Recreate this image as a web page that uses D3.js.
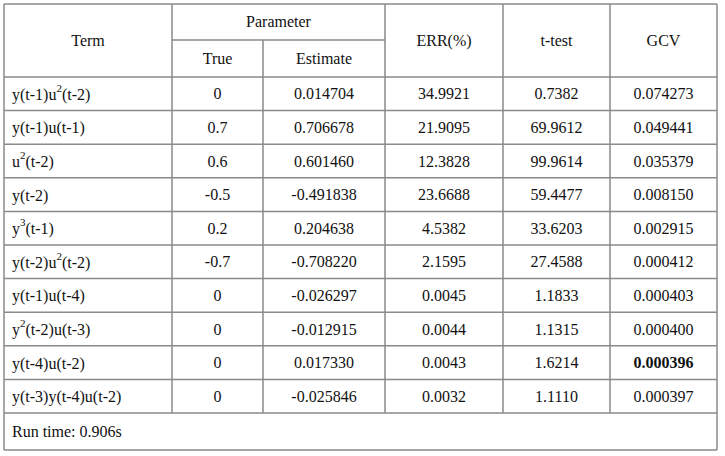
<!DOCTYPE html><html><head><script src="https://cdn.jsdelivr.net/npm/d3@7"></script>
<style>body{margin:0;background:#fff}</style></head><body><svg id="c" width="725" height="456"></svg>
<script>
const terms=[["y(t-1)u","2","(t-2)"],["y(t-1)u(t-1)"],["u","2","(t-2)"],["y(t-2)"],["y","3","(t-1)"],["y(t-2)u","2","(t-2)"],["y(t-1)u(t-4)"],["y","2","(t-2)u(t-3)"],["y(t-4)u(t-2)"],["y(t-3)y(t-4)u(t-2)"]];
const trueVals=["0","0.7","0.6","-0.5","0.2","-0.7","0","0","0","0"];
const estimates=["0.014704","0.706678","0.601460","-0.491838","0.204638","-0.708220","-0.026297","-0.012915","0.017330","-0.025846"];
const errs=["34.9921","21.9095","12.3828","23.6688","4.5382","2.1595","0.0045","0.0044","0.0043","0.0032"];
const ttests=["0.7382","69.9612","99.9614","59.4477","33.6203","27.4588","1.1833","1.1315","1.6214","1.1110"];
const gcvs=["0.074273","0.049441","0.035379","0.008150","0.002915","0.000412","0.000403","0.000400","0.000396","0.000397"];
const boldRow=8;
const runTime="Run time: 0.906s";
(function(){
const svg=d3.select("#c");
const cols=[4,172,263,385,503,610,717];
const yTop=4,mid=40,hb=77,rh=33.6,n=terms.length;
const y=d3.scaleLinear().domain([0,n]).range([hb,hb+n*rh]);
const bottom=y(n)+37;
const st="#8a8a8a",font="Liberation Serif, Times New Roman, serif";
const line=(x1,y1,x2,y2)=>svg.append("line").attr("x1",x1).attr("y1",y1).attr("x2",x2).attr("y2",y2).attr("stroke",st).attr("stroke-width",1.5);
line(cols[0],yTop,cols[6],yTop);
line(cols[1],mid,cols[3],mid);
for(let i=0;i<=n;i++)line(cols[0],y(i),cols[6],y(i));
line(cols[0],bottom,cols[6],bottom);
cols.forEach((c,i)=>{const y2=(i==0||i==6)?bottom:y(n);const y1=(i==2)?mid:yTop;line(c,y1,c,y2);});
const txt=(x,yy,s,anchor="middle",w="normal")=>svg.append("text").attr("x",x).attr("y",yy).attr("text-anchor",anchor).attr("dominant-baseline","central").attr("font-family",font).attr("font-size",16).attr("font-weight",w).attr("fill","#111").text(s);
const cx=i=>(cols[i]+cols[i+1])/2;
txt(cx(0),(yTop+hb)/2,"Term");
txt((cols[1]+cols[3])/2,(yTop+mid)/2-1,"Parameter");
txt(cx(1),(mid+hb)/2,"True");txt(cx(2),(mid+hb)/2,"Estimate");
txt(cx(3),(yTop+hb)/2,"ERR(%)");txt(cx(4),(yTop+hb)/2,"t-test");txt(cx(5),(yTop+hb)/2,"GCV");
terms.forEach((t,i)=>{
 const yy=(y(i)+y(i+1))/2;
 const tx=svg.append("text").attr("x",cols[0]+8).attr("y",yy).attr("dominant-baseline","central").attr("font-family",font).attr("font-size",16).attr("fill","#111");
 tx.append("tspan").text(t[0]);
 if(t.length>1){tx.append("tspan").attr("font-size",11).attr("dy",-6).text(t[1]);tx.append("tspan").attr("dy",6).text(t[2]);}
 txt(cx(1),yy,trueVals[i]);txt(cx(2),yy,estimates[i]);txt(cx(3),yy,errs[i]);txt(cx(4),yy,ttests[i]);
 txt(cx(5),yy,gcvs[i],"middle",i==boldRow?"bold":"normal");
});
txt(cols[0]+8,(y(n)+bottom)/2,runTime,"start");
})();
</script></body></html>
